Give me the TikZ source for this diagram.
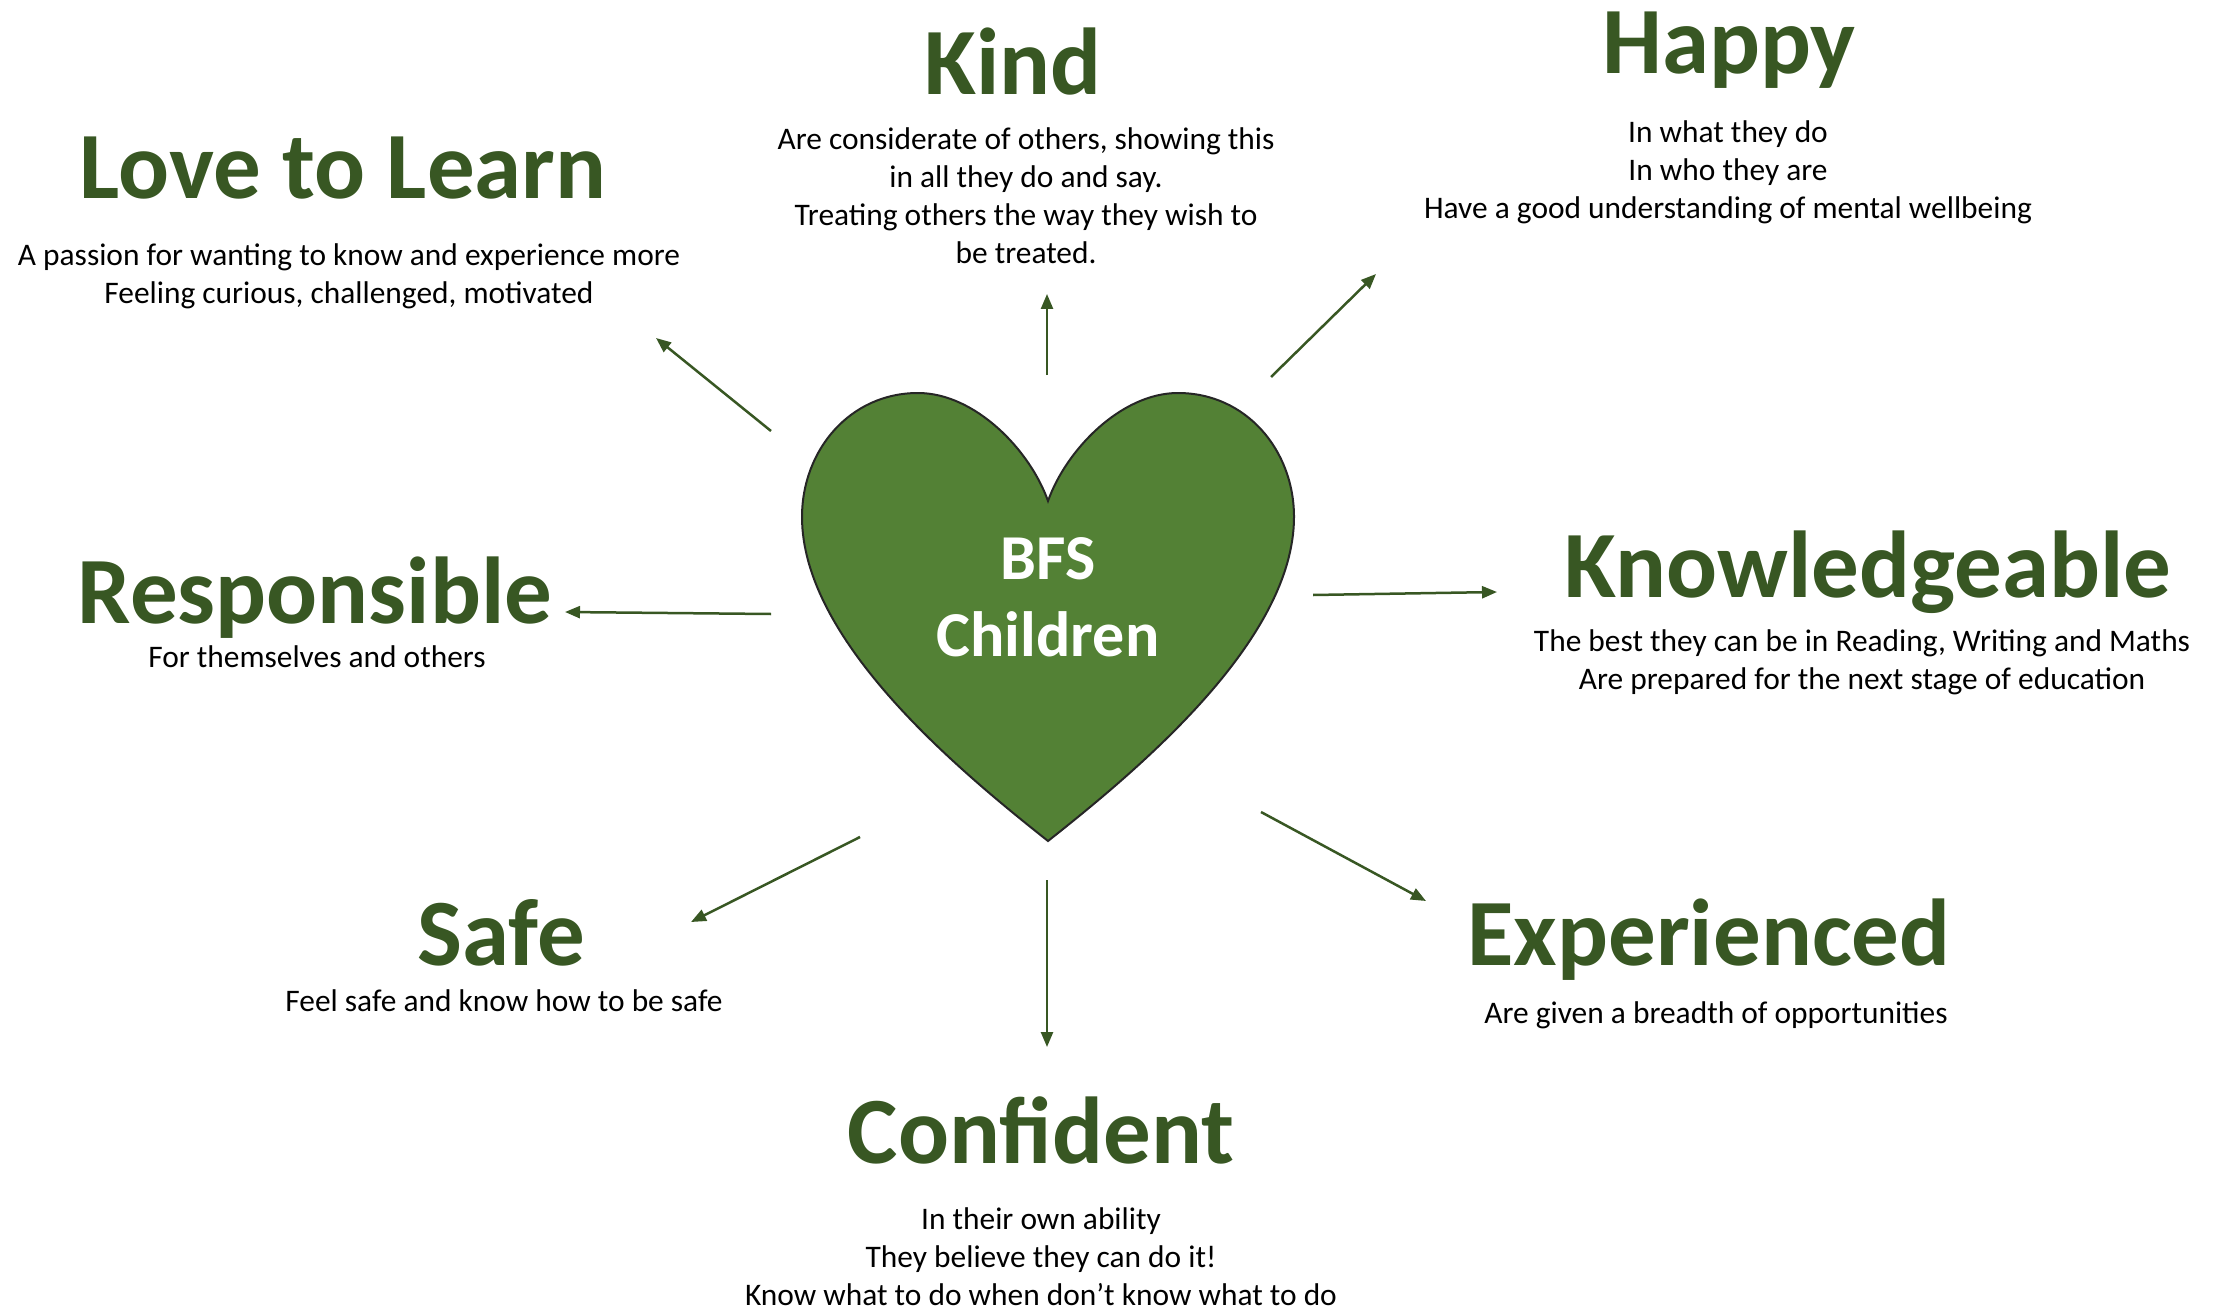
\documentclass[tikz,border=0pt]{standalone}
\usepackage{fontspec}
\setmainfont{Carlito}
\usetikzlibrary{arrows.meta}
\definecolor{headgreen}{HTML}{385723}
\definecolor{heartgreen}{HTML}{538135}
\newcommand\bodylines[1]{\begin{tabular}[t]{@{}c@{}}#1\end{tabular}}
\begin{document}
\begin{tikzpicture}[x=0.5pt,y=-0.5pt,
  head/.style={font=\fontsize{47.5}{57}\selectfont\bfseries, text=headgreen, anchor=base, inner sep=0},
  body/.style={font=\fontsize{15.7}{19}\selectfont, anchor=base, inner sep=0},
  conn/.style={draw=headgreen, line width=1.25pt, -{Triangle[length=7.5pt,width=6pt]}},
]
\useasboundingbox (0,0) rectangle (2225,1310);

% heart
\path[fill=heartgreen, draw=black!85, line width=1pt]
  (1048,501) .. controls (1030,450) and (975,393) .. (918,393)
  .. controls (850,393) and (802,450) .. (802,517)
  .. controls (802,640) and (957,769) .. (1048,841)
  .. controls (1139,769) and (1294,640) .. (1294,517)
  .. controls (1294,450) and (1246,393) .. (1178,393)
  .. controls (1121,393) and (1066,450) .. (1048,501) -- cycle;
\node[font=\fontsize{32}{38.5}\selectfont\bfseries, text=white, anchor=base, inner sep=0] (center) at (1048,579) {\bodylines{BFS\\Children}};

% headings
\node[head] (love) at (343,199) {Love to Learn};
\node[head] (kind) at (1013,95) {Kind};
\node[head] (happy) at (1729,74) {Happy};
\node[head] (resp) at (315,623) {Responsible};
\node[head] (know) at (1868,597) {Knowledgeable};
\node[head] (safe) at (501,965) {Safe};
\node[head] (exper) at (1709,965) {Experienced};
\node[head] (conf) at (1041,1163) {Confident};

% descriptions
\node[body] (lovet) at (349,266) {\bodylines{A passion for wanting to know and experience more\\Feeling curious, challenged, motivated}};
\node[body] (kindt) at (1026,150) {\bodylines{Are considerate of others, showing this\\in all they do and say.\\Treating others the way they wish to\\be treated.}};
\node[body] (happyt) at (1728,143) {\bodylines{In what they do\\In who they are\\Have a good understanding of mental wellbeing}};
\node[body] (respt) at (317,667) {For themselves and others};
\node[body] (knowt) at (1862,651) {\bodylines{The best they can be in Reading, Writing and Maths\\Are prepared for the next stage of education}};
\node[body] (safet) at (504,1011) {Feel safe and know how to be safe};
\node[body] (expert) at (1716,1023) {Are given a breadth of opportunities};
\node[body] (conft) at (1041,1229) {\bodylines{In their own ability\\They believe they can do it!\\Know what to do when don’t know what to do}};

% arrow ends
\coordinate (s1) at (771,431);  \coordinate (e1) at (656,338);
\coordinate (s2) at (1047,375); \coordinate (e2) at (1047,294);
\coordinate (s3) at (1271,377); \coordinate (e3) at (1376,274);
\coordinate (s4) at (771,614);  \coordinate (e4) at (565,612);
\coordinate (s5) at (1313,595); \coordinate (e5) at (1497,592);
\coordinate (s6) at (860,837);  \coordinate (e6) at (691,922);
\coordinate (s7) at (1047,880); \coordinate (e7) at (1047,1047);
\coordinate (s8) at (1261,812); \coordinate (e8) at (1426,901);

\draw[conn] (s1) -- (e1);
\draw[conn] (s2) -- (e2);
\draw[conn] (s3) -- (e3);
\draw[conn] (s4) -- (e4);
\draw[conn] (s5) -- (e5);
\draw[conn] (s6) -- (e6);
\draw[conn] (s7) -- (e7);
\draw[conn] (s8) -- (e8);
\end{tikzpicture}
\end{document}
